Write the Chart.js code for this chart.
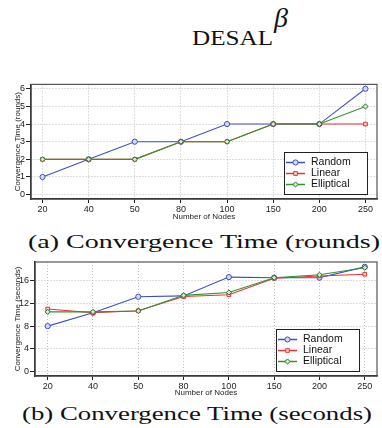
<!DOCTYPE html>
<html lang="en">
<head>
<meta charset="UTF-8">
<title>DESAL convergence time</title>
<script src="https://cdn.jsdelivr.net/npm/chart.js"></script>
<style>
  body { margin: 0; width: 382px; height: 428px; background: #fff; position: relative; overflow: hidden; }
  .tex { position: absolute; font-family: "Liberation Serif", serif; color: #111; white-space: nowrap; line-height: 1; transform-origin: 0 0; }
  .plot { position: absolute; left: 0; width: 382px; }
</style>
</head>
<body>
<div class="tex" style="left:192px; top:28px; font-size:20px;" data-w="81">DESAL</div>
<div class="tex" style="left:274px; top:4px; font-size:28px; font-style:italic;">β</div>

<div class="plot" style="top:78px; height:146px;"><canvas id="roundsChart"></canvas></div>
<div class="tex" style="left:28px; top:233px; font-size:18px;" data-w="352">(a) Convergence Time (rounds)</div>

<div class="plot" style="top:255px; height:145px;"><canvas id="secondsChart"></canvas></div>
<div class="tex" style="left:22px; top:405px; font-size:18px;" data-w="350">(b) Convergence Time (seconds)</div>

<script>
// data
const nodeCounts = ['20', '40', '50', '80', '100', '150', '200', '250'];
const seriesNames = ['Random', 'Linear', 'Elliptical'];

const roundsRandom = [1, 2, 3, 3, 4, 4, 4, 6];
const roundsLinear = [2, 2, 2, 3, 3, 4, 4, 4];
const roundsElliptical = [2, 2, 2, 3, 3, 4, 4, 5];
const roundsTicks = [0, 1, 2, 3, 4, 5, 6];

const secondsRandom = [8.0, 10.35, 13.15, 13.3, 16.6, 16.5, 16.5, 18.4];
const secondsLinear = [11.0, 10.35, 10.7, 13.2, 13.5, 16.4, 16.8, 17.1];
const secondsElliptical = [10.5, 10.5, 10.65, 13.4, 13.9, 16.5, 17.0, 18.25];
const secondsTicks = [0, 4, 8, 12, 16];

// fit the serif captions to the width they take in the figure
document.querySelectorAll('[data-w]').forEach(el => {
    const k = parseFloat(el.dataset.w) / el.getBoundingClientRect().width;
    el.style.transform = `scaleX(${k})`;
});

const sans = '"Liberation Sans", Arial, sans-serif';
// later series sit on top, like the original plot
const styles = [
    { color: '#3d4fc6', fill: '#d6daf5', point: 'circle', edge: '#3d4fc6', order: 3 },
    { color: '#e8322b', fill: '#fbd3d0', point: 'rect', edge: '#e8322b', order: 2 },
    { color: '#2e962e', fill: '#cdeccd', point: 'rectRot', edge: '#2a6e2a', order: 1 }
];

// box around the plot area
const frame = {
    id: 'frame',
    beforeDatasetsDraw(chart) {
        const { ctx, chartArea: a } = chart;
        ctx.save();
        ctx.strokeStyle = '#555';
        ctx.lineWidth = 1.2;
        ctx.strokeRect(a.left, a.top, a.right - a.left, a.bottom - a.top);
        ctx.restore();
    }
};

// matplotlib-like legend in the lower right corner
const boxLegend = {
    id: 'boxLegend',
    afterDatasetsDraw(chart, args, opts) {
        const { ctx, chartArea } = chart;
        const w = 83, h = 42;
        const x0 = Math.round(chartArea.right - opts.right - w);
        const y0 = Math.round(chartArea.bottom - opts.bottom - h);
        ctx.save();
        ctx.fillStyle = '#fff';
        ctx.fillRect(x0, y0, w, h);
        ctx.strokeStyle = '#222';
        ctx.lineWidth = 1;
        ctx.strokeRect(x0 + 0.5, y0 + 0.5, w, h);
        chart.data.datasets.forEach((ds, i) => {
            const y = y0 + 10.5 + i * 11;
            ctx.strokeStyle = ds.borderColor;
            ctx.lineWidth = 1.5;
            ctx.beginPath();
            ctx.moveTo(x0 + 2, y);
            ctx.lineTo(x0 + 21, y);
            ctx.stroke();
            ctx.fillStyle = ds.pointBackgroundColor;
            ctx.strokeStyle = ds.pointBorderColor;
            ctx.lineWidth = 1;
            Chart.helpers.drawPoint(ctx, { pointStyle: ds.pointStyle, radius: ds.pointRadius, borderWidth: 1, rotation: 0 }, x0 + 11.5, y);
            ctx.fillStyle = '#111';
            ctx.font = '10.5px ' + sans;
            ctx.textBaseline = 'middle';
            ctx.fillText(ds.label, x0 + 27, y);
        });
        ctx.restore();
    }
};

function makeChart(id, series, cfg) {
    const datasets = series.map((values, i) => ({
        label: seriesNames[i],
        data: values.map((v, k) => ({ x: k, y: v })),
        order: styles[i].order,
        borderColor: styles[i].color,
        borderWidth: 1.1,
        pointStyle: styles[i].point,
        pointRadius: 2.6,
        pointBorderWidth: 1,
        pointBackgroundColor: styles[i].fill,
        pointBorderColor: styles[i].edge,
        tension: 0
    }));

    return new Chart(document.getElementById(id), {
        type: 'line',
        data: { datasets: datasets },
        options: {
            responsive: true,
            maintainAspectRatio: false,
            animation: false,
            devicePixelRatio: 1,
            layout: { padding: { left: 0, right: 3, top: cfg.padTop, bottom: 0 } },
            plugins: {
                legend: { display: false },
                tooltip: { enabled: false },
                boxLegend: { right: cfg.legendRight, bottom: 5 }
            },
            scales: {
                x: {
                    type: 'linear',
                    min: cfg.xMin,
                    max: cfg.xMax,
                    afterBuildTicks: s => { s.ticks = nodeCounts.map((_, i) => ({ value: i })); },
                    afterFit: s => { s.height = cfg.xHeight; },
                    ticks: { callback: v => nodeCounts[v], font: { size: 9, family: sans }, color: '#222', padding: 1, maxRotation: 0, autoSkip: false },
                    grid: { color: '#bdbdbd', lineWidth: 1, tickLength: 4, tickColor: '#222', tickWidth: 1 },
                    border: { display: true, color: '#111', width: 1.5, dash: [1, 2] },
                    title: { display: true, text: 'Number of Nodes', font: { size: 8, family: sans }, color: '#222', padding: { top: 0, bottom: 2 } }
                },
                y: {
                    min: cfg.yMin,
                    max: cfg.yMax,
                    afterBuildTicks: s => { s.ticks = cfg.yTicks.map(v => ({ value: v })); },
                    afterFit: s => { s.width = cfg.yWidth; },
                    ticks: { font: { size: 9, family: sans }, color: '#222', padding: 1 },
                    grid: { color: '#bdbdbd', lineWidth: 1, tickLength: 5, tickColor: '#222', tickWidth: 1 },
                    border: { display: true, color: '#111', width: 1.5, dash: [1, 2] },
                    title: { display: true, text: cfg.yTitle, font: { size: 8, family: sans }, color: '#222', padding: { top: 13, bottom: 0 } }
                }
            }
        },
        plugins: [frame, boxLegend]
    });
}

makeChart('roundsChart', [roundsRandom, roundsLinear, roundsElliptical], {
    yTicks: roundsTicks, yMin: -0.25, yMax: 6.25, yTitle: 'Convergence Time (rounds)',
    xMin: -0.25, xMax: 7.25, xHeight: 25, yWidth: 31, padTop: 5.5, legendRight: 10
});

makeChart('secondsChart', [secondsRandom, secondsLinear, secondsElliptical], {
    yTicks: secondsTicks, yMin: -0.75, yMax: 19.25, yTitle: 'Convergence Time (seconds)',
    xMin: -0.28, xMax: 7.27, xHeight: 24, yWidth: 35, padTop: 7, legendRight: 18
});
</script>
</body>
</html>
